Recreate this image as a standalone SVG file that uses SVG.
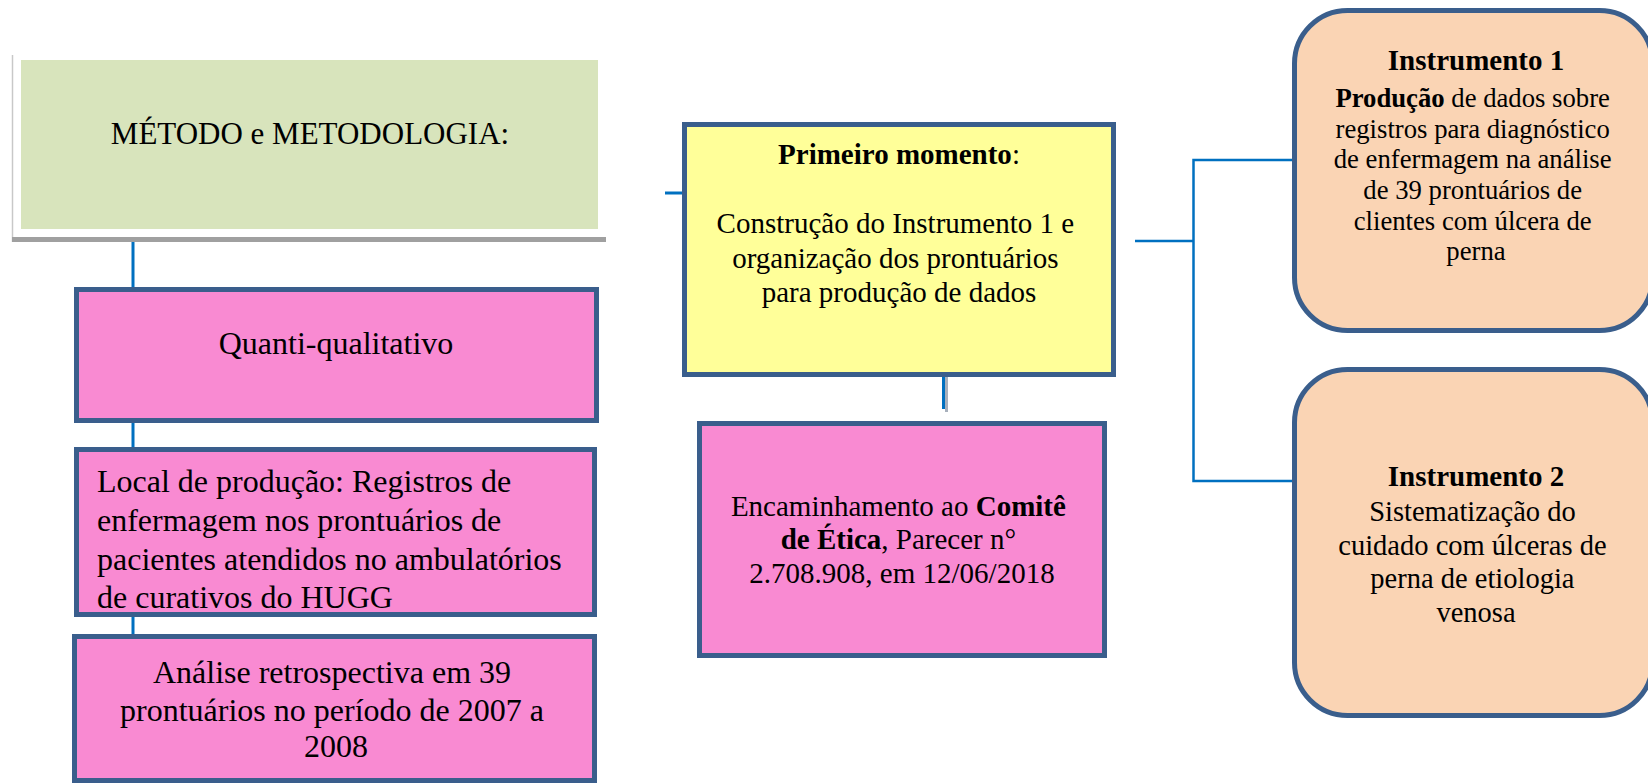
<svg xmlns="http://www.w3.org/2000/svg" width="1648" height="784" viewBox="0 0 1648 784">
<style>
text{font-family:"Liberation Serif","Times New Roman",serif;fill:#000}
.box{stroke:#3A5E8C;stroke-width:5}
.pink{fill:#F98AD2}
.peach{fill:#FAD4B4}
.conn{stroke:#0070C0;fill:none}
.b{font-weight:bold}
.c{text-anchor:middle}
</style>
<rect width="1648" height="784" fill="#fff"/>
<g id="connectors">
  <line class="conn" x1="133" y1="242" x2="133" y2="636" stroke-width="3"/>
  <line class="conn" x1="665" y1="193" x2="684" y2="193" stroke-width="3"/>
  <line x1="946.5" y1="374" x2="946.5" y2="412" stroke="#A8B0BC" stroke-width="3"/>
  <line class="conn" x1="943.5" y1="371" x2="943.5" y2="409" stroke-width="3"/>
  <polyline class="conn" points="1135,241 1193.5,241" stroke-width="2.5"/>
  <polyline class="conn" points="1292,160 1193.5,160 1193.5,481 1292,481" stroke-width="2.5"/>
</g>
<g id="node-metodo">
  <line x1="12.5" y1="55" x2="12.5" y2="242" stroke="#C8C8C8" stroke-width="1.5"/>
  <rect x="12" y="237" width="594" height="5" fill="#A0A0A0"/>
  <rect x="21" y="60" width="577" height="169" fill="#D8E4BC"/>
  <text class="c" x="310" y="144" font-size="31">MÉTODO e METODOLOGIA:</text>
</g>
<g id="node-quanti">
  <rect class="box pink" x="76.5" y="289.5" width="520" height="131"/>
  <text class="c" x="336" y="354" font-size="32">Quanti-qualitativo</text>
</g>
<g id="node-local">
  <rect class="box pink" x="76.5" y="449.5" width="518" height="165"/>
  <text x="97" font-size="32">
    <tspan x="97" y="492">Local de produção: Registros de</tspan>
    <tspan x="97" y="531">enfermagem nos prontuários de</tspan>
    <tspan x="97" y="570">pacientes atendidos no ambulatórios</tspan>
    <tspan x="97" y="608">de curativos do HUGG</tspan>
  </text>
</g>
<g id="node-analise">
  <rect class="box pink" x="74.5" y="636.5" width="520" height="144"/>
  <text class="c" font-size="32">
    <tspan x="336" y="683">Análise retrospectiva em 39</tspan>
    <tspan x="336" y="721">prontuários no período de 2007 a</tspan>
    <tspan x="336" y="757">2008</tspan>
  </text>
</g>
<g id="node-primeiro">
  <rect class="box" x="684.5" y="124.5" width="429" height="250" fill="#FFFF99"/>
  <text class="c" x="899" y="164" font-size="29"><tspan class="b">Primeiro momento</tspan>:</text>
  <text class="c" font-size="29">
    <tspan x="899" y="233">Construção do Instrumento 1 e</tspan>
    <tspan x="899" y="268">organização dos prontuários</tspan>
    <tspan x="899" y="302">para produção de dados</tspan>
  </text>
</g>
<g id="node-comite">
  <rect class="box pink" x="699.5" y="423.5" width="405" height="232"/>
  <text class="c" font-size="29">
    <tspan x="902" y="516">Encaminhamento ao <tspan class="b">Comitê</tspan></tspan>
    <tspan x="902" y="549"><tspan class="b">de Ética</tspan>, Parecer n°</tspan>
    <tspan x="902" y="583">2.708.908, em 12/06/2018</tspan>
  </text>
</g>
<g id="node-instrumento1">
  <rect class="box peach" x="1294.5" y="10.5" width="358" height="320" rx="53" ry="53"/>
  <text class="c b" x="1476" y="70" font-size="29">Instrumento 1</text>
  <text class="c" font-size="26.7">
    <tspan x="1476" y="107"><tspan class="b">Produção</tspan> de dados sobre</tspan>
    <tspan x="1476" y="137.5">registros para diagnóstico</tspan>
    <tspan x="1476" y="168">de enfermagem na análise</tspan>
    <tspan x="1476" y="199">de 39 prontuários de</tspan>
    <tspan x="1476" y="229.5">clientes com úlcera de</tspan>
    <tspan x="1476" y="260">perna</tspan>
  </text>
</g>
<g id="node-instrumento2">
  <rect class="box peach" x="1294.5" y="369.5" width="358" height="346" rx="53" ry="53"/>
  <text class="c b" x="1476" y="486" font-size="29">Instrumento 2</text>
  <text class="c" font-size="28.5">
    <tspan x="1476" y="521">Sistematização do</tspan>
    <tspan x="1476" y="555">cuidado com úlceras de</tspan>
    <tspan x="1476" y="588">perna de etiologia</tspan>
    <tspan x="1476" y="622">venosa</tspan>
  </text>
</g>
</svg>
